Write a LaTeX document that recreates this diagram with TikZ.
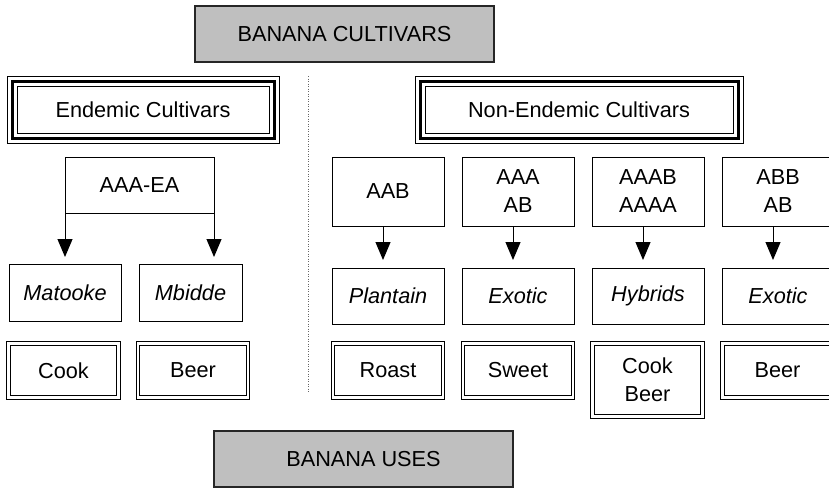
\documentclass[tikz,border=0pt]{standalone}
\usepackage{fontspec}
\setmainfont{Liberation Sans}
\usetikzlibrary{arrows.meta}
\begin{document}
\begin{tikzpicture}[x=1pt,y=-1pt,
  every node/.style={font=\fontsize{21.7}{28}\selectfont, inner sep=0pt, outer sep=0pt, align=center},
  title/.style={draw=black!85, line width=1.5pt, fill=black!25, minimum width=299pt, minimum height=56pt},
  group/.style={draw, line width=1pt, minimum height=47pt},
  plainbox/.style={draw, line width=1pt},
  cultivar/.style={plainbox, minimum height=57pt, font=\fontsize{21.7}{28}\selectfont\itshape},
  usebox/.style={draw, line width=0.9pt, double, double distance=2.4pt, minimum width=110pt, minimum height=54pt},
  thinframe/.style={line width=1pt},
  heavyframe/.style={line width=3pt},
  arr/.style={line width=1pt, -{Triangle[length=18pt,width=15pt]}},
  divider/.style={black!60, line width=0.8pt, dash pattern=on 0.8pt off 1.7pt}
]
\path[use as bounding box, clip] (0,0) rectangle (829,488);

% headings
\node[title] (cult) at (344.5,34) {BANANA CULTIVARS};
\node[title] (uses) at (363.5,459) {BANANA USES};

% group boxes with triple border
\node[group, minimum width=252pt] (endem) at (143,109.5) {Endemic Cultivars};
\node[group, minimum width=308pt] (nonend) at (579,109.5) {Non-Endemic Cultivars};
\foreach \g in {endem,nonend}{
  \draw[heavyframe] ([xshift=-5pt,yshift=5pt]\g.north west) rectangle ([xshift=5pt,yshift=-5pt]\g.south east);
  \draw[thinframe] ([xshift=-10pt,yshift=10pt]\g.north west) rectangle ([xshift=10pt,yshift=-10pt]\g.south east);
}

% divider between the two groups
\coordinate (divtop) at (308,76);
\coordinate (divbot) at (308,392);
\draw[divider] (divtop) -- (divbot);

% genome groups
\node[plainbox, minimum width=149pt, minimum height=56pt] (aea) at (139.5,185) {AAA-EA};
\node[plainbox, minimum width=112pt, minimum height=69pt] (aab) at (388,191.5) {AAB};
\node[plainbox, minimum width=112pt, minimum height=69pt] (aaa) at (518,191.5) {AAA\\AB};
\node[plainbox, minimum width=112pt, minimum height=69pt] (aaab) at (648,191.5) {AAAB\\AAAA};
\node[plainbox, minimum width=112pt, minimum height=69pt] (abb) at (778,191.5) {ABB\\AB};

% cultivar types
\node[cultivar, minimum width=112pt] (mat) at (65,292.5) {Matooke};
\node[cultivar, minimum width=103pt] (mbi) at (190.5,292.5) {Mbidde};
\node[cultivar, minimum width=112pt, minimum height=56pt] (plan) at (388,296) {Plantain};
\node[cultivar, minimum width=112pt, minimum height=56pt] (exo) at (518,296) {Exotic};
\node[cultivar, minimum width=112pt, minimum height=56pt] (hyb) at (648,296) {Hybrids};
\node[cultivar, minimum width=112pt, minimum height=56pt] (exob) at (778,296) {Exotic};

% uses
\node[usebox] (cook) at (63.5,370.5) {Cook};
\node[usebox] (beer) at (193,370.5) {Beer};
\node[usebox] (roast) at (388,370.5) {Roast};
\node[usebox] (sweet) at (518,370.5) {Sweet};
\node[usebox, minimum height=73pt] (cookbeer) at (647.5,380) {Cook\\Beer};
\node[usebox] (beerb) at (777.5,370.5) {Beer};

% arrows
\draw[arr, shorten >=7pt] (aea.south west) -- (aea.south west |- mat.north);
\draw[arr, shorten >=7pt] (aea.south east) -- (aea.south east |- mbi.north);
\draw[arr, shorten >=8pt] ([xshift=-5pt]aab.south) -- ([xshift=-5pt]plan.north);
\draw[arr, shorten >=8pt] ([xshift=-5pt]aaa.south) -- ([xshift=-5pt]exo.north);
\draw[arr, shorten >=8pt] ([xshift=-5pt]aaab.south) -- ([xshift=-5pt]hyb.north);
\draw[arr, shorten >=8pt] ([xshift=-5pt]abb.south) -- ([xshift=-5pt]exob.north);
\end{tikzpicture}
\end{document}
